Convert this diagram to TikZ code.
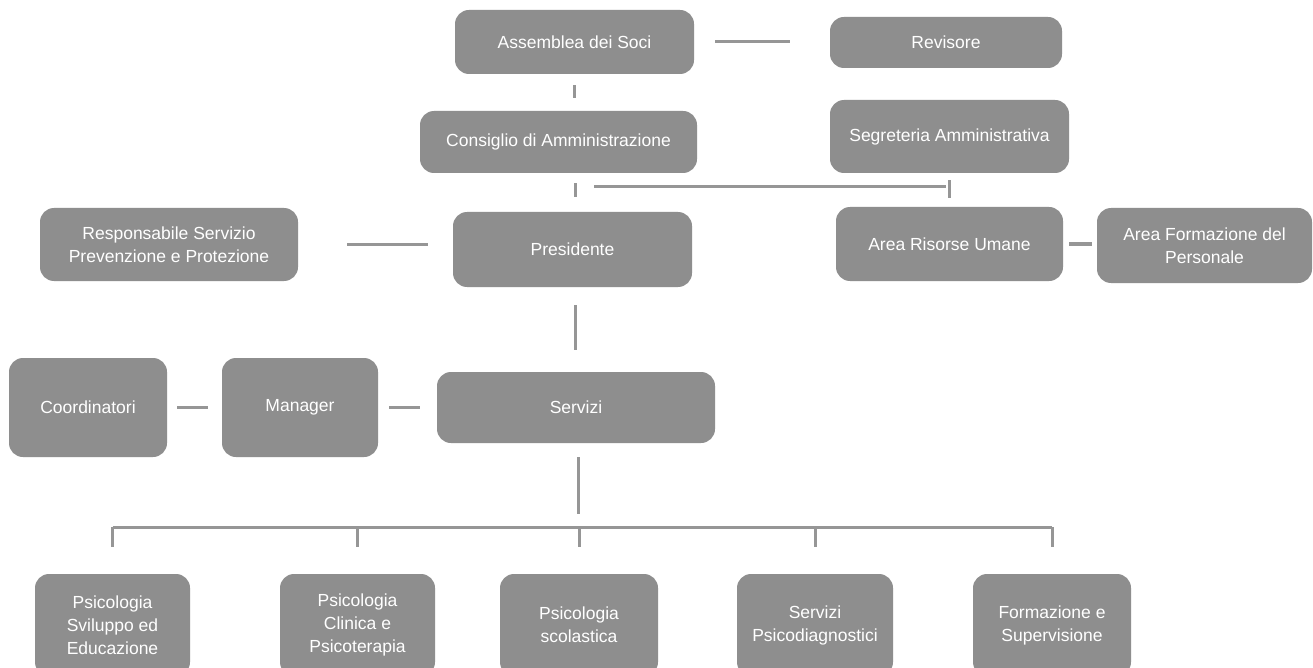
\documentclass[tikz,border=0pt]{standalone}
\usepackage{fontspec}
\setmainfont{Liberation Sans}
\definecolor{boxgray}{HTML}{8E8E8E}
\definecolor{linegray}{HTML}{969696}
\tikzset{
  orgbox/.style={fill=boxgray, text=white, rounded corners=14pt, inner sep=0pt,
    align=center, font=\fontsize{17.5}{23}\selectfont},
  link/.style={draw=linegray, line width=3pt},
}
\begin{document}
\begin{tikzpicture}[x=1pt, y=-1pt]
  % Page frame.
  \fill[white] (0,0) rectangle (1313,668);
  \useasboundingbox (0,0) rectangle (1313,668);
  % Governing bodies.
  \node[orgbox, minimum width=239pt, minimum height=64pt] (soci) at (574.5,42) {Assemblea dei Soci};
  \node[orgbox, minimum width=232pt, minimum height=51pt] (revisore) at (946,42.5) {Revisore};
  \node[orgbox, minimum width=277pt, minimum height=62pt] (consiglio) at (558.5,142) {Consiglio di Amministrazione};
  \node[orgbox, minimum width=239pt, minimum height=73pt] (segreteria) at (949.5,136.5) {Segreteria Amministrativa};
  % Presidency and staff.
  \node[orgbox, minimum width=258pt, minimum height=73pt] (rspp) at (169,244.5) {Responsabile Servizio\\Prevenzione e Protezione};
  \node[orgbox, minimum width=239pt, minimum height=75pt] (presidente) at (572.5,249.5) {Presidente};
  \node[orgbox, minimum width=227pt, minimum height=74pt] (risorse) at (949.5,244) {Area Risorse Umane};
  \node[orgbox, minimum width=215pt, minimum height=75pt] (formpers) at (1204.5,245.5) {Area Formazione del\\Personale};
  % Operations.
  \node[orgbox, minimum width=158pt, minimum height=99pt] (coordinatori) at (88,407.5) {Coordinatori};
  \node[orgbox, minimum width=156pt, minimum height=99pt] (manager) at (300,407.5) {Manager};
  \node[orgbox, minimum width=278pt, minimum height=71pt] (servizi) at (576,407.5) {Servizi};
  % Service areas.
  \node[orgbox, minimum width=155pt, minimum height=102pt] (psisvil) at (112.5,625) {Psicologia\\Sviluppo ed\\Educazione};
  \node[orgbox, minimum width=155pt, minimum height=102pt] (psiclin) at (357.5,625) {Psicologia\\Clinica e\\Psicoterapia};
  \node[orgbox, minimum width=158pt, minimum height=102pt] (psiscol) at (579,625) {Psicologia\\scolastica};
  \node[orgbox, minimum width=156pt, minimum height=102pt] (psidiag) at (815,625) {Servizi\\Psicodiagnostici};
  \node[orgbox, minimum width=158pt, minimum height=102pt] (formsup) at (1052,625) {Formazione e\\Supervisione};
  % Connectors.
  \coordinate (hubL) at (575,187);
  \coordinate (hubR) at (949.5,187);
  \coordinate (bus) at (578,527);
  \draw[link, shorten <=21pt, shorten >=40pt] (soci) -- (soci -| revisore.west);
  \draw[link, shorten <=11pt, shorten >=13pt] (soci.south) -- (soci.south |- consiglio.north);
  \draw[link, shorten <=10pt, shorten >=15pt] (consiglio.south -| hubL) -- (presidente.north -| hubL);
  \draw[link, shorten <=19pt, shorten >=4pt] (hubL) -- (hubR);
  \draw[link, shorten <=7pt, shorten >=9pt] (segreteria.south) -- (risorse.north);
  \draw[link, shorten <=49pt, shorten >=25pt] (rspp.east) -- (rspp.east -| presidente.west);
  \draw[link, shorten <=6pt, shorten >=5pt] (risorse.east) -- (risorse.east -| formpers.west);
  \draw[link, shorten <=18pt, shorten >=22pt] (presidente.south -| hubL) -- (servizi.north -| hubL);
  \draw[link, shorten <=10pt, shorten >=14pt] (coordinatori) -- (manager);
  \draw[link, shorten <=11pt, shorten >=17pt] (manager) -- (servizi);
  \draw[link, shorten <=14pt, shorten >=13pt] (servizi.south -| bus) -- (bus);
  \draw[link] (psisvil.north |- bus) -- (formsup.north |- bus);
  \foreach \area in {psisvil,psiclin,psiscol,psidiag,formsup}
    \draw[link, shorten >=27pt] (\area.north |- bus) -- (\area.north);
\end{tikzpicture}
\end{document}
